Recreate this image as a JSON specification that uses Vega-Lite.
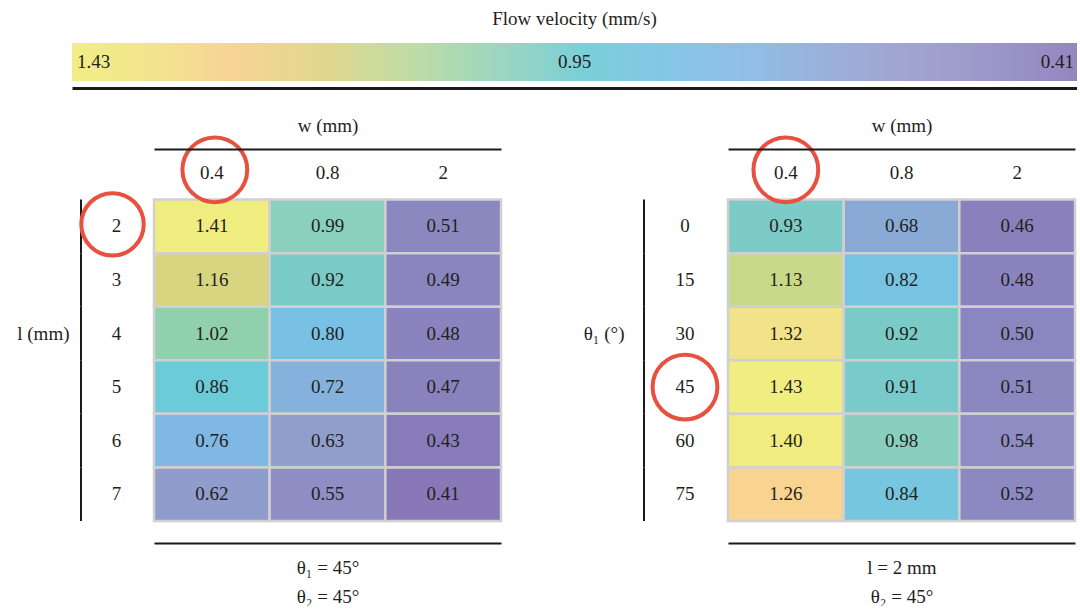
{
  "$schema": "https://vega.github.io/schema/vega-lite/v6.json",
  "background": "white",
  "padding": {"left": 16, "top": 10, "right": 0, "bottom": 0},
  "config": {
    "font": "Liberation Serif",
    "view": {"stroke": null},
    "axis": {"labelFont": "Liberation Serif", "titleFont": "Liberation Serif", "titleFontWeight": "normal", "titleFontSize": 19, "titleColor": "#231f20", "labelColor": "#231f20", "grid": false},
    "mark": {"font": "Liberation Serif"},
    "text": {"font": "Liberation Serif", "fontSize": 19, "color": "#231f20"},
    "title": {"font": "Liberation Serif", "fontWeight": "normal", "fontSize": 19, "color": "#231f20"}
  },
  "datasets": {
    "leftCells": [
      {"w": "0.4", "r": "2", "v": 1.41}, {"w": "0.8", "r": "2", "v": 0.99}, {"w": "2", "r": "2", "v": 0.51},
      {"w": "0.4", "r": "3", "v": 1.16}, {"w": "0.8", "r": "3", "v": 0.92}, {"w": "2", "r": "3", "v": 0.49},
      {"w": "0.4", "r": "4", "v": 1.02}, {"w": "0.8", "r": "4", "v": 0.80}, {"w": "2", "r": "4", "v": 0.48},
      {"w": "0.4", "r": "5", "v": 0.86}, {"w": "0.8", "r": "5", "v": 0.72}, {"w": "2", "r": "5", "v": 0.47},
      {"w": "0.4", "r": "6", "v": 0.76}, {"w": "0.8", "r": "6", "v": 0.63}, {"w": "2", "r": "6", "v": 0.43},
      {"w": "0.4", "r": "7", "v": 0.62}, {"w": "0.8", "r": "7", "v": 0.55}, {"w": "2", "r": "7", "v": 0.41}
    ],
    "rightCells": [
      {"w": "0.4", "r": "0", "v": 0.93}, {"w": "0.8", "r": "0", "v": 0.68}, {"w": "2", "r": "0", "v": 0.46},
      {"w": "0.4", "r": "15", "v": 1.13}, {"w": "0.8", "r": "15", "v": 0.82}, {"w": "2", "r": "15", "v": 0.48},
      {"w": "0.4", "r": "30", "v": 1.32}, {"w": "0.8", "r": "30", "v": 0.92}, {"w": "2", "r": "30", "v": 0.50},
      {"w": "0.4", "r": "45", "v": 1.43}, {"w": "0.8", "r": "45", "v": 0.91}, {"w": "2", "r": "45", "v": 0.51},
      {"w": "0.4", "r": "60", "v": 1.40}, {"w": "0.8", "r": "60", "v": 0.98}, {"w": "2", "r": "60", "v": 0.54},
      {"w": "0.4", "r": "75", "v": 1.26}, {"w": "0.8", "r": "75", "v": 0.84}, {"w": "2", "r": "75", "v": 0.52}
    ],
    "leftRows": [{"r": "2"}, {"r": "3"}, {"r": "4"}, {"r": "5"}, {"r": "6"}, {"r": "7"}],
    "rightRows": [{"r": "0"}, {"r": "15"}, {"r": "30"}, {"r": "45"}, {"r": "60"}, {"r": "75"}],
    "cols": [{"w": "0.4", "r": "h"}, {"w": "0.8", "r": "h"}, {"w": "2", "r": "h"}],
    "bar": [{"a": "1.43", "b": "0.41"}],
    "barLabels": [{"t": "1.43", "pos": "start"}, {"t": "0.95", "pos": "mid"}, {"t": "0.41", "pos": "end"}]
  },
  "spacing": 28,
  "vconcat": [
    {
      "width": 1005,
      "height": 38,
      "title": {"text": "Flow velocity (mm/s)", "anchor": "middle", "offset": 14},
      "layer": [
        {
          "data": {"name": "bar"},
          "mark": {"type": "rect", "color": {"gradient": "linear", "x1": 0, "y1": 0, "x2": 1, "y2": 0, "stops": [
            {"offset": 0.0, "color": "#f0ee86"},
            {"offset": 0.08, "color": "#f3e48e"},
            {"offset": 0.16, "color": "#f6d496"},
            {"offset": 0.25, "color": "#e2d78c"},
            {"offset": 0.34, "color": "#bfdca6"},
            {"offset": 0.42, "color": "#9ed6be"},
            {"offset": 0.51, "color": "#7acfd8"},
            {"offset": 0.60, "color": "#86c6e8"},
            {"offset": 0.68, "color": "#92bce6"},
            {"offset": 0.74, "color": "#98b2dc"},
            {"offset": 0.80, "color": "#a0a8d4"},
            {"offset": 0.88, "color": "#9e9ecc"},
            {"offset": 1.0, "color": "#9486c0"}
          ]}},
          "encoding": {
            "x": {"field": "a", "type": "ordinal", "scale": {"type": "point", "domain": ["1.43", "0.95", "0.41"], "padding": 0},
                  "axis": {"orient": "bottom", "labels": false, "ticks": false, "domain": true, "domainColor": "#1a1a1a", "domainWidth": 3, "offset": 7, "title": null}},
            "x2": {"field": "b"}
          }
        },
        {
          "data": {"name": "barLabels"},
          "transform": [{"filter": "datum.pos === 'start'"}],
          "mark": {"type": "text", "align": "left", "dx": 5, "font": "Liberation Serif"},
          "encoding": {"x": {"field": "t", "type": "ordinal"}, "text": {"field": "t"}}
        },
        {
          "data": {"name": "barLabels"},
          "transform": [{"filter": "datum.pos === 'mid'"}],
          "mark": {"type": "text", "align": "center", "font": "Liberation Serif"},
          "encoding": {"x": {"field": "t", "type": "ordinal"}, "text": {"field": "t"}}
        },
        {
          "data": {"name": "barLabels"},
          "transform": [{"filter": "datum.pos === 'end'"}],
          "mark": {"type": "text", "align": "right", "dx": -3, "font": "Liberation Serif"},
          "encoding": {"x": {"field": "t", "type": "ordinal"}, "text": {"field": "t"}}
        }
      ]
    },
    {
      "spacing": 80,
      "resolve": {"scale": {"x": "independent", "y": "independent"}},
      "hconcat": [
        {
          "spacing": 0,
          "resolve": {"scale": {"x": "independent", "y": "independent"}},
          "hconcat": [
            {
              "width": 77,
              "height": 375,
              "layer": [
                {
                  "data": {"name": "leftRows"},
                  "mark": {"type": "rect", "width": 2, "color": "#1a1a1a", "xOffset": 9},
                  "encoding": {
                    "x": {"datum": 0, "type": "quantitative", "scale": {"domain": [0, 1]}, "axis": null},
                    "y": {"field": "r", "type": "nominal", "scale": {"domain": ["h", "2", "3", "4", "5", "6", "7"], "paddingInner": 0, "paddingOuter": 0},
                          "axis": {"orient": "left", "title": "l (mm)", "domain": false, "labels": false, "ticks": false, "titleAngle": 0, "titleAlign": "right", "titleBaseline": "middle", "titlePadding": 3}}
                  }
                },
                {
                  "data": {"name": "leftRows"},
                  "mark": {"type": "text", "font": "Liberation Serif", "dx": 6},
                  "encoding": {"y": {"field": "r", "type": "nominal"}, "text": {"field": "r"}}
                },
                {
                  "data": {"values": [{"r": "2"}]},
                  "mark": {"type": "point", "shape": "circle", "size": 3900, "filled": false, "stroke": "#e8503f", "strokeWidth": 4, "opacity": 1, "xOffset": 2, "yOffset": -2},
                  "encoding": {"y": {"field": "r", "type": "nominal"}}
                }
              ]
            },
            {
              "width": 347,
              "height": 375,
              "resolve": {"axis": {"x": "independent"}},
              "layer": [
                {
                  "data": {"name": "leftCells"},
                  "mark": {"type": "rect", "stroke": "#d0d0d0", "strokeWidth": 2.5},
                  "encoding": {
                    "x": {"field": "w", "type": "nominal", "scale": {"domain": ["0.4", "0.8", "2"], "paddingInner": 0, "paddingOuter": 0},
                          "axis": {"orient": "top", "labels": false, "ticks": false, "domainColor": "#1a1a1a", "domainWidth": 2, "offset": -3, "title": "w (mm)", "titlePadding": 14}},
                    "y": {"field": "r", "type": "nominal", "scale": {"domain": ["h", "2", "3", "4", "5", "6", "7"], "paddingInner": 0, "paddingOuter": 0}, "axis": null},
                    "color": {"field": "v", "type": "quantitative", "legend": null, "scale": {"type": "linear", "interpolate": "rgb",
                      "domain": [0.41, 0.46, 0.50, 0.55, 0.63, 0.68, 0.72, 0.76, 0.80, 0.84, 0.86, 0.92, 0.99, 1.02, 1.13, 1.16, 1.26, 1.32, 1.40, 1.43],
                      "range": ["#8878b8", "#8980bc", "#8a86bf", "#8e8ec4", "#909ecc", "#8aaad6", "#84b2dc", "#80b8e4", "#78c0e4", "#76c6e0", "#6ccbd8", "#7acac8", "#8ad0bc", "#90d0ac", "#c8d98a", "#d8d580", "#f8d490", "#f2e28a", "#f0ec80", "#f0ee80"]}}
                  }
                },
                {
                  "data": {"name": "leftCells"},
                  "mark": {"type": "text", "font": "Liberation Serif"},
                  "encoding": {
                    "x": {"field": "w", "type": "nominal", "axis": null},
                    "y": {"field": "r", "type": "nominal"},
                    "text": {"field": "v", "type": "quantitative", "format": ".2f"}
                  }
                },
                {
                  "data": {"name": "cols"},
                  "mark": {"type": "text", "font": "Liberation Serif"},
                  "encoding": {
                    "x": {"field": "w", "type": "nominal",
                          "axis": {"orient": "bottom", "labels": false, "ticks": false, "domainColor": "#1a1a1a", "domainWidth": 2, "offset": 22, "title": ["θ₁ = 45°", "θ₂ = 45°"], "titleLineHeight": 29, "titlePadding": 15}},
                    "y": {"field": "r", "type": "nominal"},
                    "text": {"field": "w"}
                  }
                },
                {
                  "data": {"values": [{"w": "0.4", "r": "h"}]},
                  "mark": {"type": "point", "shape": "circle", "size": 4200, "filled": false, "stroke": "#e8503f", "strokeWidth": 4, "opacity": 1, "xOffset": 3, "yOffset": -3},
                  "encoding": {
                    "x": {"field": "w", "type": "nominal", "axis": null},
                    "y": {"field": "r", "type": "nominal"}
                  }
                }
              ]
            }
          ]
        },
        {
          "spacing": 0,
          "resolve": {"scale": {"x": "independent", "y": "independent"}},
          "hconcat": [
            {
              "width": 79,
              "height": 375,
              "layer": [
                {
                  "data": {"name": "rightRows"},
                  "mark": {"type": "rect", "width": 2, "color": "#1a1a1a"},
                  "encoding": {
                    "x": {"datum": 0, "type": "quantitative", "scale": {"domain": [0, 1]}, "axis": null},
                    "y": {"field": "r", "type": "nominal", "scale": {"domain": ["h", "0", "15", "30", "45", "60", "75"], "paddingInner": 0, "paddingOuter": 0},
                          "axis": {"orient": "left", "title": "θ₁ (°)", "domain": false, "labels": false, "ticks": false, "titleAngle": 0, "titleAlign": "right", "titleBaseline": "middle", "titlePadding": 20}}
                  }
                },
                {
                  "data": {"name": "rightRows"},
                  "mark": {"type": "text", "font": "Liberation Serif", "dx": 1.5},
                  "encoding": {"y": {"field": "r", "type": "nominal"}, "text": {"field": "r"}}
                },
                {
                  "data": {"values": [{"r": "45"}]},
                  "mark": {"type": "point", "shape": "circle", "size": 4200, "filled": false, "stroke": "#e8503f", "strokeWidth": 4, "opacity": 1, "xOffset": 1.5},
                  "encoding": {"y": {"field": "r", "type": "nominal"}}
                }
              ]
            },
            {
              "width": 347,
              "height": 375,
              "resolve": {"axis": {"x": "independent"}},
              "layer": [
                {
                  "data": {"name": "rightCells"},
                  "mark": {"type": "rect", "stroke": "#d0d0d0", "strokeWidth": 2.5},
                  "encoding": {
                    "x": {"field": "w", "type": "nominal", "scale": {"domain": ["0.4", "0.8", "2"], "paddingInner": 0, "paddingOuter": 0},
                          "axis": {"orient": "top", "labels": false, "ticks": false, "domainColor": "#1a1a1a", "domainWidth": 2, "offset": -3, "title": "w (mm)", "titlePadding": 14}},
                    "y": {"field": "r", "type": "nominal", "scale": {"domain": ["h", "0", "15", "30", "45", "60", "75"], "paddingInner": 0, "paddingOuter": 0}, "axis": null},
                    "color": {"field": "v", "type": "quantitative", "legend": null, "scale": {"type": "linear", "interpolate": "rgb",
                      "domain": [0.41, 0.46, 0.50, 0.55, 0.63, 0.68, 0.72, 0.76, 0.80, 0.84, 0.86, 0.92, 0.99, 1.02, 1.13, 1.16, 1.26, 1.32, 1.40, 1.43],
                      "range": ["#8878b8", "#8980bc", "#8a86bf", "#8e8ec4", "#909ecc", "#8aaad6", "#84b2dc", "#80b8e4", "#78c0e4", "#76c6e0", "#6ccbd8", "#7acac8", "#8ad0bc", "#90d0ac", "#c8d98a", "#d8d580", "#f8d490", "#f2e28a", "#f0ec80", "#f0ee80"]}}
                  }
                },
                {
                  "data": {"name": "rightCells"},
                  "mark": {"type": "text", "font": "Liberation Serif"},
                  "encoding": {
                    "x": {"field": "w", "type": "nominal", "axis": null},
                    "y": {"field": "r", "type": "nominal"},
                    "text": {"field": "v", "type": "quantitative", "format": ".2f"}
                  }
                },
                {
                  "data": {"name": "cols"},
                  "mark": {"type": "text", "font": "Liberation Serif"},
                  "encoding": {
                    "x": {"field": "w", "type": "nominal",
                          "axis": {"orient": "bottom", "labels": false, "ticks": false, "domainColor": "#1a1a1a", "domainWidth": 2, "offset": 22, "title": ["l = 2 mm", "θ₂ = 45°"], "titleLineHeight": 29, "titlePadding": 15}},
                    "y": {"field": "r", "type": "nominal"},
                    "text": {"field": "w"}
                  }
                },
                {
                  "data": {"values": [{"w": "0.4", "r": "h"}]},
                  "mark": {"type": "point", "shape": "circle", "size": 4200, "filled": false, "stroke": "#e8503f", "strokeWidth": 4, "opacity": 1, "yOffset": -3},
                  "encoding": {
                    "x": {"field": "w", "type": "nominal", "axis": null},
                    "y": {"field": "r", "type": "nominal"}
                  }
                }
              ]
            }
          ]
        }
      ]
    }
  ]
}
